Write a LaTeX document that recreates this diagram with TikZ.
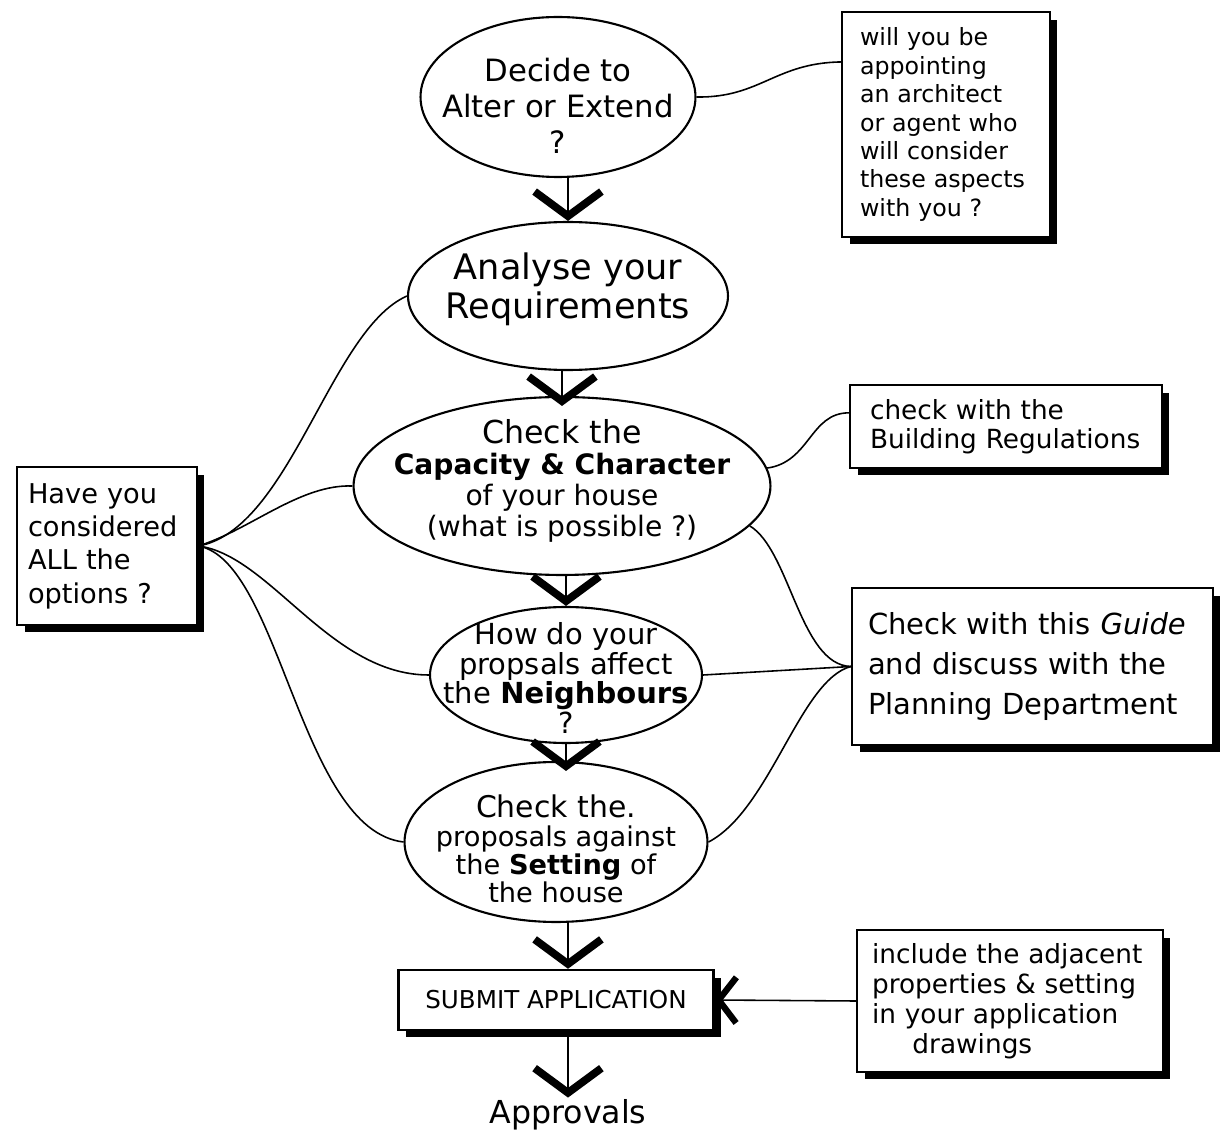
\documentclass[tikz,border=0pt]{standalone}
\usepackage{fontspec}
\setmainfont{DejaVu Sans}
\usetikzlibrary{shapes.geometric,arrows.meta,shadows,backgrounds,calc}
\newcommand\myfs[2]{\fontsize{#1pt}{#2pt}\selectfont}
\begin{document}
\begin{tikzpicture}[x=0.02cm,y=-0.02cm,
  ell/.style={draw, ellipse, line width=1.2pt, fill=white, inner sep=0pt},
  txt/.style={align=center, inner sep=0pt},
  sbox/.style={draw, rectangle, line width=1.4pt, fill=white,
    drop shadow={shadow xshift=0.15cm, shadow yshift=-0.15cm, fill=black, opacity=1}},
  lbox/.style={sbox, align=left},
  conn/.style={line width=0.9pt},
  flow/.style={line width=0.9pt, -{Straight Barb[length=14pt,width=38pt,line width=4.4pt]}},
  flowl/.style={line width=0.9pt, -{Straight Barb[length=10pt,width=26pt,line width=3.6pt]}}]
\useasboundingbox (0,0) rectangle (1225,1138);

% main chain
\node[ell, minimum width=5.5cm, minimum height=3.2cm] (e1) at (558,97) {};
\node[txt, font=\myfs{17.5}{20.5}] (t1) at (558,106) {Decide to\\Alter or Extend\\?};

\node[ell, minimum width=6.4cm, minimum height=2.96cm] (e2) at (568,296) {};
\node[txt, font=\myfs{20}{22}] (t2) at (568,289) {Analyse your\\Requirements};

\node[ell, minimum width=8.34cm, minimum height=3.56cm] (e3) at (562,486) {};
\node[txt, font=\myfs{16}{17.6}] (t3) at (562,481) {{\myfs{18}{17.6}Check the}\\\textbf{Capacity \& Character}\\of your house\\(what is possible ?)};

\node[ell, minimum width=5.44cm, minimum height=2.72cm] (e4) at (566,675) {};
\node[txt, font=\myfs{16.5}{17}] (t4) at (566,678) {How do your\\propsals affect\\the \textbf{Neighbours}\\?};

\node[ell, minimum width=6.06cm, minimum height=3.2cm] (e5) at (556,842) {};
\node[txt, font=\myfs{15.5}{16}] (t5) at (556,849) {{\myfs{17}{16}Check the.}\\proposals against\\the \textbf{Setting} of\\the house};

\node[sbox, align=center, minimum width=6.3cm, minimum height=1.2cm, font=\myfs{14}{16}] (sub) at (556,1000) {SUBMIT APPLICATION};

\node[txt, inner sep=1pt, font=\myfs{18}{20}] (ap) at (568,1115) {Approvals};

% side boxes
\node[lbox, minimum height=4.5cm, inner xsep=0.36cm, text width=3.44cm, font=\myfs{13.5}{16.2}] (tr) at (946,124.5)
  {will you be\\appointing\\an architect\\or agent who\\will consider\\these aspects\\with you ?};

\node[lbox, minimum height=1.66cm, inner xsep=0.4cm, text width=5.44cm, font=\myfs{15}{16.5}] (br) at (1006,426.5)
  {check with the\\Building Regulations};

\node[lbox, minimum height=3.14cm, inner xsep=0.32cm, text width=6.58cm, font=\myfs{16.5}{22.5}] (pl) at (1032.5,666.5)
  {Check with this \textit{Guide}\\and discuss with the\\Planning Department};

\node[lbox, minimum height=2.84cm, inner xsep=0.3cm, text width=5.52cm, font=\myfs{15}{17}] (inc) at (1010,1001)
  {include the adjacent\\properties \& setting\\in your application\\\hspace*{23pt}drawings};

\node[lbox, minimum height=3.16cm, inner xsep=0.22cm, text width=3.16cm, font=\myfs{15.5}{19}] (lb) at (107,546)
  {Have you\\considered\\ALL the\\options ?};

% connectors behind
\begin{scope}[on background layer]
\fill[white] (0,0) rectangle (1225,1138);
\draw[conn] (e1.east) .. controls (760,98) and (775,63) .. ($(tr.north west)!0.225!(tr.south west)$);
\draw[conn] (lb.east) .. controls (290,530) and (330,330) .. (e2.west);
\draw[conn] (lb.east) .. controls (250,530) and (300,484) .. (e3.west);
\draw[conn] (lb.east) .. controls (270,555) and (330,675) .. (e4.west);
\draw[conn] (lb.east) .. controls (280,560) and (300,830) .. (e5.west);
\draw[conn] (e3.5) .. controls (810,462) and (810,413) .. ($(br.north west)!0.34!(br.south west)$);
\draw[conn] (e3.-12) .. controls (790,550) and (800,665) .. (pl.west);
\draw[conn] (e4.east) -- (pl.west);
\draw[conn] (e5.east) .. controls (770,810) and (800,680) .. (pl.west);
\end{scope}

% flow arrows
\draw[flow] (e2.north |- e1.south) -- (e2.north);
\draw[flow] (e3.north |- e2.south) -- ($(e3.north)+(0,10)$);
\draw[flow] (e4.north |- e3.south) -- (e4.north);
\draw[flow] (e4.south) -- ($(e4.south |- e5.north)+(0,10)$);
\draw[flow] (ap.north |- e5.south) -- (ap.north |- sub.north);
\draw[flow] (sub.south -| ap.north) -- (ap.north);
\draw[flowl] (inc.west) -- (sub.east);
\end{tikzpicture}
\end{document}
